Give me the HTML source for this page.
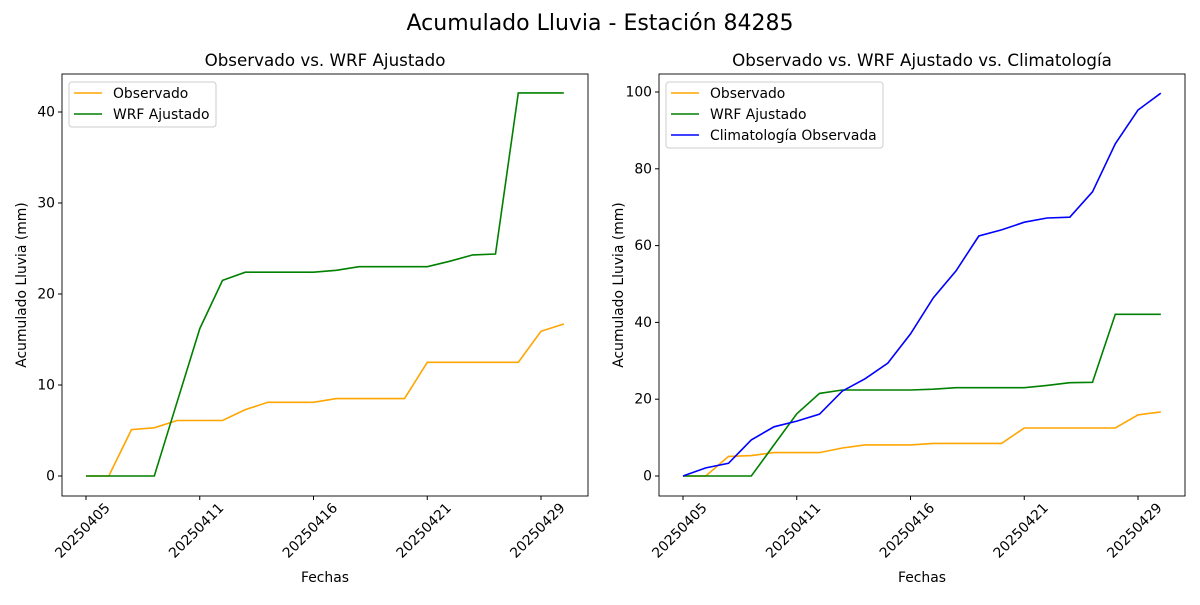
<!DOCTYPE html>
<html><head><meta charset="utf-8"><style>
body{margin:0;background:#fff;}
text{font-family:"DejaVu Sans","Liberation Sans",sans-serif;fill:#000;}
</style></head><body>
<svg id="s" width="1200" height="600" xmlns="http://www.w3.org/2000/svg">
<text x="600" y="30" font-size="22" text-anchor="middle">Acumulado Lluvia - Estación 84285</text>
</svg>
<script>
const obs=[0,0,5.1,5.3,6.1,6.1,6.1,7.3,8.1,8.1,8.1,8.5,8.5,8.5,8.5,12.5,12.5,12.5,12.5,12.5,15.9,16.7];
const wrf=[0,0,0,0,8.1,16.2,21.5,22.4,22.4,22.4,22.4,22.6,23.0,23.0,23.0,23.0,23.6,24.3,24.4,42.1,42.1,42.1];
const cli=[0,2.1,3.3,9.4,12.8,14.3,16.1,22.1,25.3,29.4,37,46.4,53.4,62.5,64.1,66.1,67.2,67.4,74,86.5,95.3,99.7];
const labels=["20250405","20250411","20250416","20250421","20250429"];
const FS=13.9;
let h='';
function panel(x0,title,ppu,ticks,series,legend){
  const L=x0,R=x0+526,T=74,B=496,y0=476;
  const X=i=>L+24+22.75*i, Y=v=>y0-v*ppu;
  h+=`<text x="${(L+R)/2}" y="66" font-size="16.7" text-anchor="middle">${title}</text>`;
  for(const s of series){
    h+=`<polyline fill="none" stroke="${s.c}" stroke-width="1.6" points="${s.d.map((v,i)=>X(i).toFixed(1)+','+Y(v).toFixed(1)).join(' ')}"/>`;
  }
  h+=`<rect x="${L}" y="${T}" width="526" height="422" fill="none" stroke="#000" stroke-width="0.9"/>`;
  for(const t of ticks){const y=Y(t);h+=`<line x1="${L-4}" x2="${L}" y1="${y}" y2="${y}" stroke="#000"/><text x="${L-7}" y="${y+4.5}" font-size="${FS}" text-anchor="end">${t}</text>`;}
  labels.forEach((lb,k)=>{const x=X(k*5);h+=`<line x1="${x}" x2="${x}" y1="${B}" y2="${B+4}" stroke="#000"/><text transform="translate(${x+18},${B+6}) rotate(-45)" font-size="${FS}" text-anchor="end" dominant-baseline="hanging">${lb}</text>`;});
  h+=`<text x="${(L+R)/2}" y="582" font-size="${FS}" text-anchor="middle">Fechas</text>`;
  h+=`<text transform="translate(${L-36},${(T+B)/2}) rotate(-90)" font-size="${FS}" text-anchor="middle">Acumulado Lluvia (mm)</text>`;
  const lh=21,lw=legend.w;
  h+=`<rect x="${L+7}" y="${T+8}" width="${lw}" height="${series.length*lh+3}" rx="3" fill="#fff" fill-opacity="0.8" stroke="#ccc"/>`;
  series.forEach((s,k)=>{const y=T+19+k*lh;h+=`<line x1="${L+12}" x2="${L+40}" y1="${y}" y2="${y}" stroke="${s.c}" stroke-width="1.6"/><text x="${L+51}" y="${y+5}" font-size="${FS}">${s.n}</text>`;});
}
panel(62,"Observado vs. WRF Ajustado",9.1,[0,10,20,30,40],[{d:obs,c:"orange",n:"Observado"},{d:wrf,c:"green",n:"WRF Ajustado"}],{w:147});
panel(659,"Observado vs. WRF Ajustado vs. Climatología",3.84,[0,20,40,60,80,100],[{d:obs,c:"orange",n:"Observado"},{d:wrf,c:"green",n:"WRF Ajustado"},{d:cli,c:"blue",n:"Climatología Observada"}],{w:217});
document.getElementById('s').insertAdjacentHTML('beforeend',h);
</script>
</body></html>
